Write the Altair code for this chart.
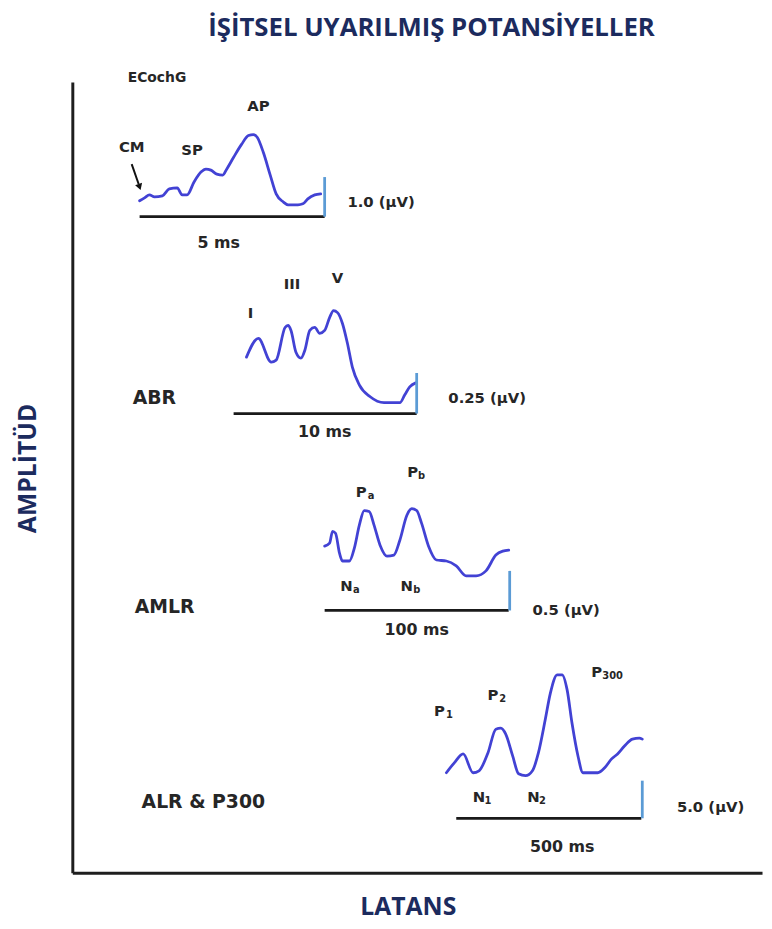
import altair as alt
import pandas as pd

# ---------------- data (chart units) ----------------
TITLE = "İŞİTSEL UYARILMIŞ POTANSİYELLER"
TITLE_X = [363]
TITLE_Y = [846]
X_TITLE = "LATANS"
Y_TITLE = "AMPLİTÜD"

PANELS = ["ECochG", "ABR", "AMLR", "ALR & P300"]

ECOCHG_X = [68, 73, 78, 83, 91, 98, 106, 111, 116, 123, 130, 135, 140, 146, 152, 156, 163, 171, 178, 183,
            187, 193, 200, 206, 213, 218, 228, 233, 238, 245, 251]
ECOCHG_Y = [679, 682, 685, 683, 684, 691, 692, 685, 685, 698, 708, 711, 710, 706, 705, 711, 723, 736, 745, 746,
            743, 728, 705, 686, 678, 675, 675, 676, 681, 685, 686]

ABR_X = [176, 188, 201, 206, 215, 218, 221, 226, 231, 235, 240, 245, 250, 255, 260, 264, 268, 273, 278, 283,
         290, 301, 315, 331, 336, 341, 347]
ABR_Y = [521, 540, 516, 518, 551, 553, 548, 526, 520, 528, 548, 551, 545, 548, 561, 568, 566, 555, 535, 511,
         493, 481, 475, 475, 483, 491, 495]

AMLR_X = [255, 260, 263, 266, 270, 273, 280, 285, 290, 295, 300, 305, 311, 318, 325, 331, 338, 343, 348, 353,
          360, 368, 378, 388, 398, 408, 418, 428, 435, 441]
AMLR_Y = [330, 333, 345, 343, 323, 315, 315, 328, 351, 366, 365, 351, 331, 320, 321, 336, 361, 368, 366, 353,
          330, 316, 315, 310, 300, 300, 305, 321, 325, 326]

ALR_X = [378, 386, 395, 405, 411, 420, 428, 433, 438, 445, 451, 458, 465, 471, 478, 483, 490, 495, 500, 505,
         511, 516, 531, 538, 545, 551, 558, 566, 573, 576]
ALR_Y = [101, 111, 120, 101, 103, 121, 145, 146, 140, 118, 100, 98, 103, 121, 155, 181, 200, 200, 185, 151,
         118, 101, 101, 106, 115, 120, 128, 135, 136, 135]

# time-scale baselines: start, end, level
BASE_X1 = [68, 163, 255, 388]
BASE_X2 = [255, 348, 441, 575]
BASE_Y = [663, 464, 265, 55]

# amplitude scale bars: position, bottom, top
BAR_X = [255, 348, 442, 576]
BAR_Y1 = [663, 464, 265, 55]
BAR_Y2 = [703, 505, 305, 93]

# panel names (left aligned)
NAME_X = [56, 61, 63, 70]
NAME_Y = [803, 480, 268, 71]
NAME_SIZE = [14, 19, 19, 19]

# amplitude labels (left aligned)
AMP_TEXT = ["1.0 (μV)", "0.25 (μV)", "0.5 (μV)", "5.0 (μV)"]
AMP_X = [278, 380, 465, 611]
AMP_Y = [678, 480, 265, 66]

# time labels (centred)
TIME_TEXT = ["5 ms", "10 ms", "100 ms", "500 ms"]
TIME_X = [148, 255, 348, 495]
TIME_Y = [636, 445, 245, 26]

# peak labels (centred) and their subscripts
PEAK_TEXT = ["CM", "SP", "AP", "I", "III", "V", "P", "P", "N", "N", "P", "P", "P", "N", "N"]
PEAK_X = [60, 121, 188, 180, 222, 268, 292, 344, 277, 338, 371, 425, 530, 411, 466]
PEAK_Y = [733, 730, 775, 566, 595, 601, 385, 405, 290, 290, 163, 180, 203, 76, 76]

SUB_TEXT = ["a", "b", "a", "b", "1", "2", "300", "1", "2"]
SUB_X = [302, 353, 287, 348, 381, 435, 546, 420, 475]
SUB_Y = [381, 401, 286, 286, 159, 176, 199, 72, 72]

# CM arrow: shaft start, shaft end, head
ARROW_X = [60, 67]
ARROW_Y = [716, 696]
HEAD_X = [68]
HEAD_Y = [693]

# ---------------- styling ----------------
NAVY = "#1c2b5e"
WAVE = "#4242d4"
BAR = "#5b9bd5"
INK = "#262626"
LABEL_FONT = "DejaVu Sans"
TITLE_FONT = "Open Sans"

# ---------------- tables ----------------
rows = []
for name, xs, ys in zip(PANELS, [ECOCHG_X, ABR_X, AMLR_X, ALR_X], [ECOCHG_Y, ABR_Y, AMLR_Y, ALR_Y]):
    for i, (a, b) in enumerate(zip(xs, ys)):
        rows.append({"panel": name, "i": i, "x": a, "y": b})
waves = pd.DataFrame(rows)

bases = pd.DataFrame({"panel": PANELS, "x": BASE_X1, "x2": BASE_X2, "y": BASE_Y})
bars = pd.DataFrame({"panel": PANELS, "x": BAR_X, "y": BAR_Y1, "y2": BAR_Y2})

left_text = pd.DataFrame({
    "t": PANELS + AMP_TEXT,
    "x": NAME_X + AMP_X,
    "y": NAME_Y + AMP_Y,
    "s": NAME_SIZE + [15] * len(AMP_TEXT),
})
center_text = pd.DataFrame({
    "t": TIME_TEXT + PEAK_TEXT + SUB_TEXT,
    "x": TIME_X + PEAK_X + SUB_X,
    "y": TIME_Y + PEAK_Y + SUB_Y,
    "s": [16] * len(TIME_TEXT) + [15] * len(PEAK_TEXT) + [10] * len(SUB_TEXT),
})
title_df = pd.DataFrame({"t": [TITLE], "x": TITLE_X, "y": TITLE_Y})
arrow = pd.DataFrame({"x": [ARROW_X[0]], "y": [ARROW_Y[0]], "x2": [ARROW_X[1]], "y2": [ARROW_Y[1]]})
head = pd.DataFrame({"x": HEAD_X, "y": HEAD_Y})

# ---------------- scales / axes ----------------
X_SCALE = alt.Scale(domain=[0, 697], nice=False, zero=False)
Y_SCALE = alt.Scale(domain=[0, 799], nice=False, zero=False)

X_AXIS = alt.Axis(
    title=X_TITLE, domain=True, ticks=False, labels=False, grid=False,
    domainColor="#1e1e1e", domainWidth=3,
    titleFont=TITLE_FONT, titleFontSize=25, titleFontWeight="bold", titleColor=NAVY,
    titleX=339, titleY=42, titleAlign="center", titleBaseline="alphabetic",
)
Y_AXIS = alt.Axis(
    title=Y_TITLE, domain=True, ticks=False, labels=False, grid=False,
    domainColor="#1e1e1e", domainWidth=3,
    titleFont=TITLE_FONT, titleFontSize=25, titleFontWeight="bold", titleColor=NAVY,
    titleAngle=270, titleX=-45, titleY=390, titleAlign="center", titleBaseline="middle",
)


def xe(field="x"):
    return alt.X(f"{field}:Q", scale=X_SCALE, axis=X_AXIS)


def ye(field="y"):
    return alt.Y(f"{field}:Q", scale=Y_SCALE, axis=Y_AXIS)


wave_layer = alt.Chart(waves).mark_line(
    color=WAVE, strokeWidth=2.8, interpolate="monotone", strokeJoin="round", strokeCap="round"
).encode(x=xe(), y=ye(), detail="panel:N", order="i:Q")

base_layer = alt.Chart(bases).mark_rule(color="#1a1a1a", strokeWidth=2.8).encode(
    x=xe(), x2="x2:Q", y=ye()
)
bar_layer = alt.Chart(bars).mark_rule(color=BAR, strokeWidth=2.8).encode(
    x=xe(), y=ye(), y2="y2:Q"
)

left_layer = alt.Chart(left_text).mark_text(
    align="left", baseline="middle", font=LABEL_FONT, fontWeight="bold", color=INK
).encode(x=xe(), y=ye(), text="t:N", size=alt.Size("s:Q", scale=None))

center_layer = alt.Chart(center_text).mark_text(
    align="center", baseline="middle", font=LABEL_FONT, fontWeight="bold", color=INK
).encode(x=xe(), y=ye(), text="t:N", size=alt.Size("s:Q", scale=None))

title_layer = alt.Chart(title_df).mark_text(
    align="center", baseline="alphabetic", font=TITLE_FONT, fontWeight="bold",
    fontSize=26, color=NAVY
).encode(x=xe(), y=ye(), text="t:N")

arrow_layer = alt.Chart(arrow).mark_rule(color="#111111", strokeWidth=2).encode(
    x=xe(), y=ye(), x2="x2:Q", y2="y2:Q"
)
head_layer = alt.Chart(head).mark_point(
    shape="triangle-down", filled=True, color="#111111", size=55, angle=341, opacity=1
).encode(x=xe(), y=ye())

chart = alt.layer(
    wave_layer, base_layer, bar_layer, arrow_layer, head_layer, left_layer, center_layer, title_layer
).properties(
    width=697,
    height=799,
    autosize=alt.AutoSizeParams(type="none"),
    padding={"left": 65, "top": 70, "right": 2, "bottom": 48},
).configure_view(stroke=None)

chart.save("out.html", embed_options={"renderer": "svg", "actions": False})
